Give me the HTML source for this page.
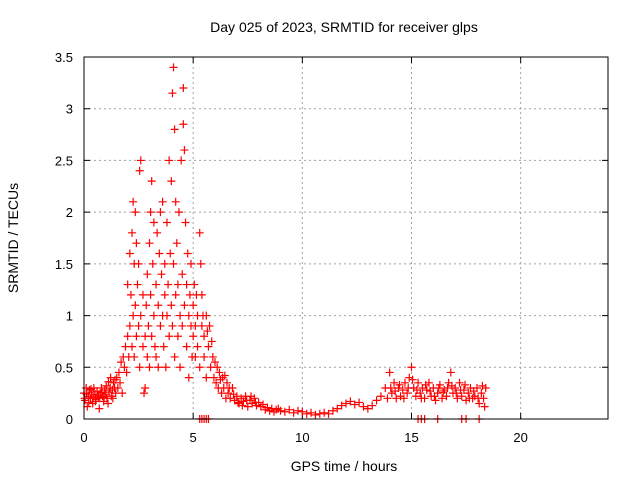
<!DOCTYPE html>
<html><head><meta charset="utf-8">
<style>
html,body{margin:0;padding:0;background:#fff;}
svg{display:block;font-family:"Liberation Sans",sans-serif;}
</style></head>
<body>
<svg id="chart" width="640" height="480">
<text x="344" y="32" font-size="14" text-anchor="middle">Day 025 of 2023, SRMTID for receiver glps</text>
<text x="344" y="471" font-size="14" text-anchor="middle">GPS time / hours</text>
<text transform="translate(18,238) rotate(-90)" font-size="14" text-anchor="middle">SRMTID / TECUs</text>
<g id="grid"></g><g id="ticks"></g><g id="marks"></g>
<rect x="84" y="57" width="524" height="362" fill="none" stroke="#000" stroke-width="1"/>
</svg>
<script>
const xTicks=[0,5,10,15,20];
const yTicks=[0,0.5,1,1.5,2,2.5,3,3.5];
const yTickLabels=["0","0.5","1","1.5","2","2.5","3","3.5"];
const samples=[
[0,0.25],[0.05,0.18],[0.1,0.3],[0.15,0.12],[0.2,0.22],[0.25,0.28],[0.3,0.2],[0.35,0.26],[0.4,0.15],[0.45,0.3],[0.5,0.24],[0.55,0.19],[0.6,0.27],[0.65,0.21],[0.7,0.1],[0.75,0.25],[0.8,0.3],[0.85,0.22],[0.9,0.17],[0.95,0.28],[1.0,0.24],[1.05,0.2],[1.1,0.15],[1.15,0.26],[1.2,0.3],[1.25,0.22],[1.3,0.28],[1.35,0.35],[1.4,0.3],[1.45,0.25],
[0.02,0.2],[0.12,0.24],[0.22,0.16],[0.32,0.29],[0.42,0.21],[0.52,0.17],[0.62,0.23],[0.72,0.2],[0.82,0.26],[0.92,0.21],[1.02,0.32],[1.12,0.36],[1.22,0.4],[1.32,0.2],[1.42,0.38],
[1.5,0.4],[1.55,0.3],[1.6,0.45],[1.65,0.35],[1.7,0.55],[1.75,0.25],[1.8,0.6],[1.85,0.5],[1.9,0.7],[1.95,0.45],
[2.0,0.8],[2.0,1.3],[2.05,0.6],[2.1,1.6],[2.1,0.9],[2.15,1.2],[2.2,0.7],[2.2,1.8],[2.25,2.1],[2.25,1.0],[2.3,1.5],[2.3,0.6],[2.35,2.0],[2.35,1.1],[2.4,1.7],[2.4,0.8],[2.45,1.3],[2.5,0.9],[2.5,1.5],[2.55,2.4],[2.55,0.5],[2.6,2.5],[2.6,1.0],[2.7,0.7],[2.7,1.2],[2.75,0.25],[2.8,0.3],[2.8,0.8],[2.85,1.1],[2.9,0.6],[2.9,1.4],[2.95,0.9],
[3.0,1.7],[3.0,0.5],[3.05,2.0],[3.05,1.2],[3.1,2.3],[3.1,0.8],[3.15,1.5],[3.2,1.0],[3.2,1.9],[3.25,0.7],[3.3,1.3],[3.3,0.6],[3.35,1.8],[3.4,1.1],[3.4,0.5],[3.45,1.6],[3.5,2.0],[3.5,0.9],[3.55,1.4],[3.6,1.0],[3.6,2.1],[3.65,0.7],[3.7,1.5],[3.7,1.2],[3.75,0.5],[3.8,1.9],[3.8,1.0],[3.85,1.3],[3.9,2.5],[3.9,0.8],[3.95,1.6],
[4.0,2.3],[4.0,1.1],[4.05,3.15],[4.05,0.9],[4.1,3.4],[4.1,1.5],[4.15,2.8],[4.15,0.6],[4.2,2.1],[4.2,1.2],[4.25,1.7],[4.3,0.8],[4.3,1.3],[4.35,2.0],[4.4,1.0],[4.4,0.5],[4.45,2.5],[4.5,1.4],[4.5,0.9],[4.55,3.2],[4.55,2.85],[4.6,2.6],[4.6,1.1],[4.65,1.9],[4.7,1.3],[4.7,0.7],[4.75,1.6],[4.8,1.0],[4.8,0.4],[4.85,1.2],[4.9,0.9],[4.9,1.5],[4.95,0.6],
[5.0,1.1],[5.0,0.8],[5.05,1.3],[5.1,0.9],[5.1,0.6],[5.15,1.2],[5.2,0.7],[5.2,1.0],[5.3,1.8],[5.3,0.5],[5.35,1.5],[5.4,1.2],[5.4,0.9],[5.45,1.0],[5.5,0.6],[5.5,0.8],[5.6,1.0],[5.6,0.4],[5.65,0.85],[5.7,0.7],[5.75,0.9],[5.8,0.5],[5.85,0.75],[5.9,0.6],[5.95,0.4],
[6.0,0.55],[6.05,0.35],[6.1,0.5],[6.15,0.3],[6.2,0.45],[6.3,0.25],[6.35,0.4],[6.4,0.3],[6.5,0.2],[6.55,0.35],[6.6,0.25],[6.7,0.2],[6.8,0.3],[6.9,0.18],[7.0,0.22],[7.1,0.15],[7.2,0.2],[7.3,0.17],[7.4,0.22],[7.5,0.12],[7.6,0.18],[7.7,0.15],[7.8,0.2],[7.9,0.13],
[6.25,0.38],[6.45,0.42],[6.65,0.3],[6.85,0.24],[7.05,0.16],[7.25,0.13],[7.45,0.18],[7.65,0.22],[7.85,0.16],
[8.0,0.16],[8.1,0.12],[8.2,0.14],[8.3,0.09],[8.4,0.11],[8.5,0.08],[8.6,0.1],[8.7,0.07],[8.8,0.09],[8.9,0.1],[9.0,0.08],[9.2,0.07],[9.4,0.09],[9.6,0.06],[9.8,0.08],[10.0,0.07],[10.2,0.05],[10.4,0.06],[10.6,0.04],[10.8,0.05],[11.0,0.06],[11.2,0.05],[11.4,0.08],[11.6,0.1],[11.8,0.13],
[12.0,0.15],[12.2,0.17],[12.4,0.14],[12.6,0.16],[12.8,0.12],[13.0,0.1],[13.2,0.13],[13.4,0.18],[13.6,0.22],[13.8,0.3],[13.9,0.2],[14.0,0.45],[14.1,0.25],[14.2,0.35],[14.3,0.2],[14.4,0.3],[14.5,0.22],[14.6,0.28],[14.7,0.35],[14.8,0.25],[14.9,0.4],
[15.0,0.5],[15.1,0.3],[15.2,0.22],[15.3,0.35],[15.4,0.25],[15.5,0.3],[15.6,0.2],[15.7,0.28],[15.8,0.35],[15.9,0.22],[16.0,0.3],[16.1,0.18],[16.2,0.25],[16.3,0.33],[16.4,0.2],[16.5,0.28],[16.6,0.22],[16.7,0.35],[16.8,0.45],[16.9,0.25],
[17.0,0.3],[17.1,0.2],[17.2,0.35],[17.3,0.22],[17.4,0.28],[17.5,0.18],[17.6,0.25],[17.7,0.3],[17.8,0.2],[17.9,0.22],[18.0,0.3],[18.1,0.15],[18.2,0.25],[18.3,0.2],[18.4,0.3],
[14.05,0.3],[14.25,0.27],[14.45,0.33],[14.65,0.2],[14.85,0.3],[15.05,0.38],[15.25,0.28],[15.45,0.2],[15.65,0.33],[15.85,0.27],[16.05,0.22],[16.25,0.3],[16.45,0.26],[16.65,0.3],[16.85,0.32],[17.05,0.25],[17.25,0.28],[17.45,0.33],[17.65,0.2],[17.85,0.27],[18.05,0.2],[18.25,0.32],[18.35,0.12],
[5.3,0],[5.4,0],[5.5,0],[5.6,0],[5.7,0],[15.3,0],[15.45,0],[15.6,0],[16.2,0],[17.3,0],[17.5,0],[18.1,0]
];
const X0=84,X1=608,Y0=419,Y1=57;
const xs=t=>X0+(t/24)*(X1-X0);
const ys=v=>Y0-(v/3.5)*(Y0-Y1);
const NS="http://www.w3.org/2000/svg";
function mk(tag,attrs,parent){const e=document.createElementNS(NS,tag);for(const k in attrs)e.setAttribute(k,attrs[k]);parent.appendChild(e);return e;}
const grid=document.getElementById('grid'),ticks=document.getElementById('ticks'),marks=document.getElementById('marks');
xTicks.forEach(t=>{const x=xs(t);
 if(t>0){const g=mk('line',{x1:x,x2:x,y1:Y1,y2:Y0,stroke:'#a0a0a0','stroke-dasharray':'2,3'},grid);
 
 }
 const tk=mk('path',{d:`M${x},${Y0}v-6M${x},${Y1}v6`,stroke:'#000'},ticks);
 
 
 const lb=mk('text',{x:x,y:Y0+23,'font-size':13,'text-anchor':'middle'},ticks);lb.textContent=String(t);
 
 
});
yTicks.forEach((v,i)=>{const y=ys(v);
 if(v>0&&v<3.5){const g=mk('line',{x1:X0,x2:X1,y1:y,y2:y,stroke:'#a0a0a0','stroke-dasharray':'2,3'},grid);
 
 }
 const tk=mk('path',{d:`M${X0},${y}h6M${X1},${y}h-6`,stroke:'#000'},ticks);
 
 
 const lb=mk('text',{x:X0-11,y:y+5,'font-size':13,'text-anchor':'end'},ticks);lb.textContent=yTickLabels[i];
 
 
});
samples.forEach(([t,v])=>{const x=xs(t),y=ys(v);
 const p=mk('path',{d:`M${x-4},${y}h8M${x},${y-4}v8`,stroke:'#ff0000','stroke-width':1.2},marks);
 
 
});
</script>
</body></html>
